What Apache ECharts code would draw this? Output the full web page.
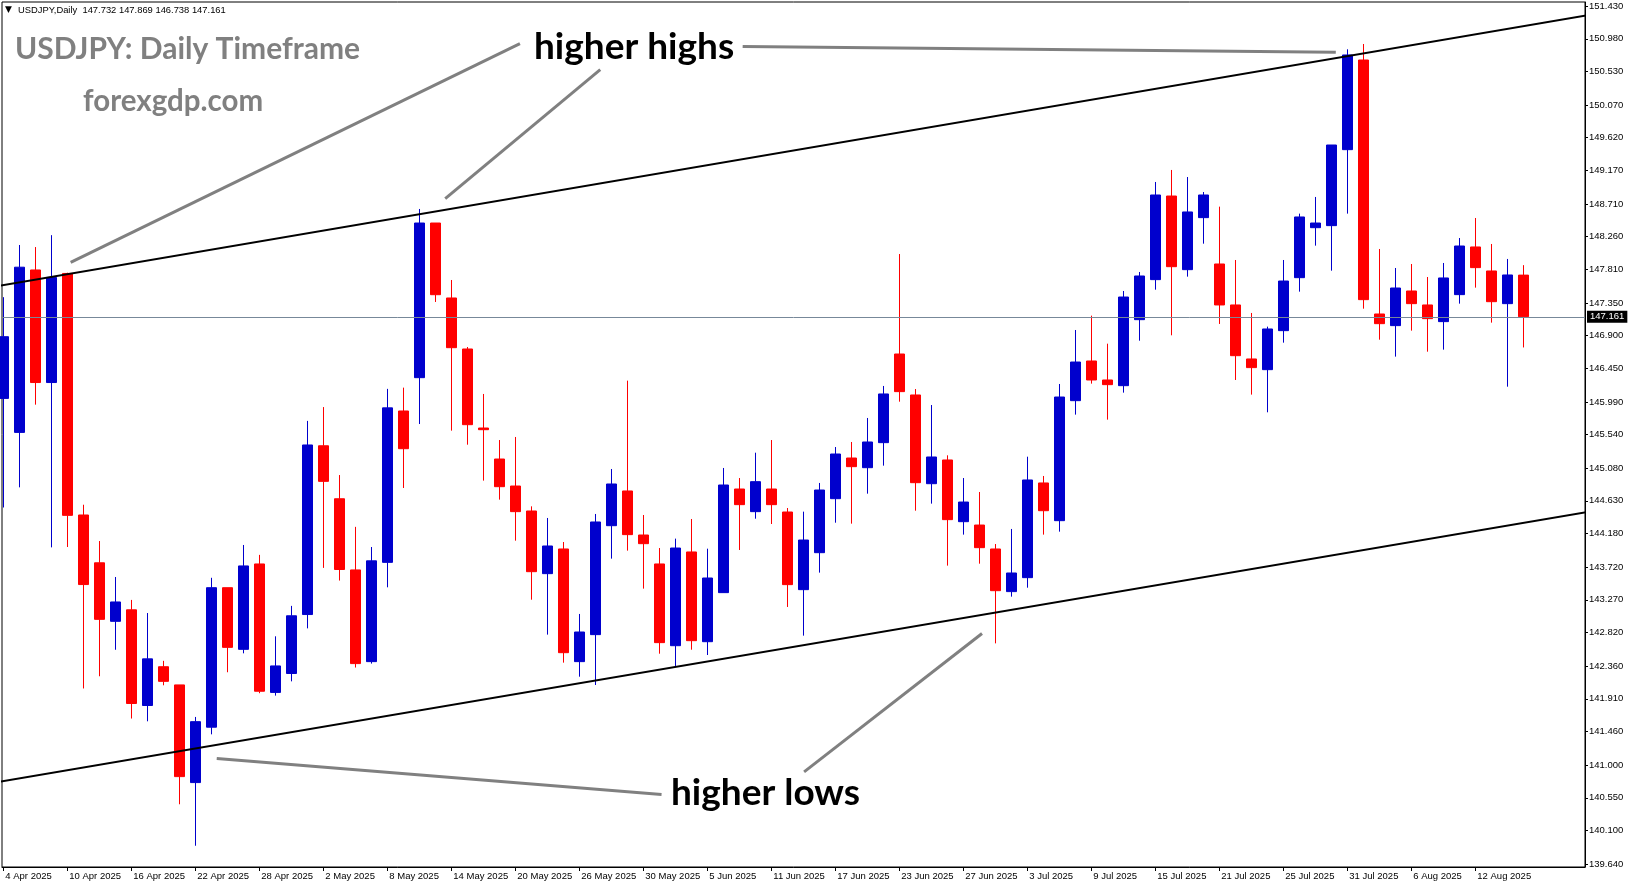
<!DOCTYPE html>
<html><head><meta charset="utf-8">
<script src="https://cdn.jsdelivr.net/npm/echarts@6/dist/echarts.min.js"></script>
<style>html,body{margin:0;padding:0;background:#fff}#chart{width:1631px;height:888px}</style>
</head><body><div id="chart"></div>
<script>
const dates = ['4 Apr 2025','7 Apr 2025','8 Apr 2025','9 Apr 2025','10 Apr 2025','11 Apr 2025','14 Apr 2025','15 Apr 2025','16 Apr 2025','17 Apr 2025','18 Apr 2025','21 Apr 2025','22 Apr 2025','23 Apr 2025','24 Apr 2025','25 Apr 2025','28 Apr 2025','29 Apr 2025','30 Apr 2025',
'1 May 2025','2 May 2025','5 May 2025','6 May 2025','7 May 2025','8 May 2025','9 May 2025','12 May 2025','13 May 2025','14 May 2025','15 May 2025','16 May 2025','19 May 2025','20 May 2025','21 May 2025','22 May 2025','23 May 2025','26 May 2025','27 May 2025','28 May 2025','29 May 2025','30 May 2025',
'2 Jun 2025','3 Jun 2025','4 Jun 2025','5 Jun 2025','6 Jun 2025','9 Jun 2025','10 Jun 2025','11 Jun 2025','12 Jun 2025','13 Jun 2025','16 Jun 2025','17 Jun 2025','18 Jun 2025','19 Jun 2025','20 Jun 2025','23 Jun 2025','24 Jun 2025','25 Jun 2025','26 Jun 2025','27 Jun 2025','30 Jun 2025',
'1 Jul 2025','2 Jul 2025','3 Jul 2025','4 Jul 2025','7 Jul 2025','8 Jul 2025','9 Jul 2025','10 Jul 2025','11 Jul 2025','14 Jul 2025','15 Jul 2025','16 Jul 2025','17 Jul 2025','18 Jul 2025','21 Jul 2025','22 Jul 2025','23 Jul 2025','24 Jul 2025','25 Jul 2025','28 Jul 2025','29 Jul 2025','30 Jul 2025','31 Jul 2025',
'1 Aug 2025','4 Aug 2025','5 Aug 2025','6 Aug 2025','7 Aug 2025','8 Aug 2025','11 Aug 2025','12 Aug 2025','13 Aug 2025','14 Aug 2025','15 Aug 2025'];

const openP = [146.038,145.571,147.803,146.256,147.755,144.436,143.779,142.975,143.133,141.818,142.351,142.101,140.759,141.520,143.437,142.590,143.763,141.998,142.258,
143.068,145.387,144.659,143.681,142.421,143.785,145.865,146.323,148.448,147.418,146.717,145.631,145.205,144.834,144.491,143.630,143.969,142.421,142.792,144.289,144.766,144.161,
143.763,142.640,143.928,142.695,143.369,144.793,144.482,144.793,144.477,143.410,143.918,144.660,145.219,145.086,145.430,146.648,146.085,144.866,145.192,144.344,144.298,
143.969,143.383,143.575,144.876,144.358,146.007,146.552,146.291,146.213,147.120,147.670,148.819,147.807,148.522,147.885,147.322,146.580,146.433,146.969,147.697,148.384,148.412,149.456,
150.688,147.198,147.038,147.514,147.322,147.093,147.464,148.119,147.789,147.340,147.732];
const highP = [147.429,148.146,148.118,148.281,147.765,144.577,144.078,143.584,143.269,143.089,142.432,142.101,141.661,143.573,143.437,144.024,143.888,142.769,143.187,
145.729,145.919,144.985,144.273,143.996,146.169,146.186,148.641,148.448,147.665,146.744,146.099,145.466,145.508,144.555,144.395,144.065,143.076,144.450,145.068,146.282,144.436,
143.982,144.111,144.381,143.973,145.082,144.944,145.292,145.466,144.532,144.482,144.876,145.370,145.439,145.769,146.209,148.022,146.167,145.947,145.256,144.944,144.752,
144.037,144.244,145.237,144.972,146.236,146.978,147.175,146.790,147.514,147.775,149.012,149.177,149.080,148.874,148.673,147.940,147.212,147.024,147.940,148.577,148.806,149.520,150.835,
150.908,148.091,147.830,147.885,147.706,147.899,148.242,148.517,148.160,147.954,147.869];
const lowP = [144.539,144.816,145.952,143.991,143.996,142.052,142.220,142.584,141.639,141.601,142.096,140.461,139.891,141.422,142.275,142.535,141.987,141.954,142.150,
142.878,143.709,143.535,142.340,142.394,143.442,144.807,145.686,147.363,145.595,145.402,144.908,144.647,144.083,143.272,142.792,142.407,142.214,142.100,143.836,143.946,143.424,
142.530,142.361,142.585,142.512,143.369,143.955,144.385,144.312,143.172,142.778,143.644,144.330,144.317,144.729,145.114,145.993,144.495,144.592,143.740,144.166,143.767,
142.672,143.314,143.437,144.166,144.207,145.815,146.241,145.746,146.117,146.831,147.532,146.905,147.711,148.164,147.061,146.291,146.090,145.847,146.804,147.505,148.137,147.793,148.577,
147.271,146.845,146.612,146.969,146.680,146.708,147.340,147.560,147.079,146.199,146.738];
const closeP = [146.886,147.841,146.256,147.700,144.431,143.480,143.002,143.241,141.846,142.459,142.150,140.841,141.596,143.437,142.617,143.736,142.014,142.362,143.051,
145.398,144.898,143.687,142.394,143.806,145.908,145.347,148.448,147.463,146.735,145.677,145.608,144.825,144.482,143.657,144.010,142.544,142.828,144.340,144.862,144.166,144.042,
142.682,143.982,142.709,143.570,144.848,144.578,144.894,144.578,143.479,144.092,144.779,145.274,145.100,145.439,146.099,146.131,144.880,145.233,144.372,144.614,143.987,
143.396,143.639,144.917,144.495,146.057,146.538,146.291,146.227,147.431,147.720,148.833,147.848,148.600,148.833,147.322,146.625,146.461,146.992,147.651,148.531,148.448,149.520,150.757,
147.395,147.065,147.555,147.340,147.134,147.693,148.132,147.835,147.367,147.734,147.161];

const priceTicks = [151.430,150.980,150.530,150.070,149.620,149.170,148.710,148.260,147.810,147.350,146.900,146.450,145.990,145.540,145.080,144.630,144.180,143.720,143.270,142.820,142.360,141.910,141.460,141.000,140.550,140.100,139.640];
const dateTickIdx = [0,4,8,12,16,20,24,28,32,36,40,44,48,52,56,60,64,68,72,76,80,84,88,92];

// trend channel (bar index, price)
const upperTrend = [[-1,147.558],[100,151.340]];
const lowerTrend = [[-1,140.741],[100,144.513]];
// annotation pointer lines (bar index, price)
const hhPointerA = [[32.29,150.912],[4.21,147.907]];
const hhPointerB = [[37.31,150.555],[27.62,148.782]];
const hhPointerC = [[46.21,150.873],[83.28,150.794]];
const hlPointerA = [[41.14,140.595],[13.34,141.090]];
const hlPointerB = [[50.05,140.907],[61.17,142.808]];

const header = 'USDJPY,Daily  147.732 147.869 146.738 147.161';
const lastClose = closeP[closeP.length-1];

const AXF = 'Liberation Sans';
const chart = echarts.init(document.getElementById('chart'), null, {renderer:'canvas'});

function lineSeries(data, color, width){
  return {type:'line', data:data, symbol:'none', silent:true, animation:false,
    lineStyle:{color:color, width:width}, z:3};
}

chart.setOption({
  animation:false,
  backgroundColor:'#fff',
  grid:{left:2, top:2, width:1583, height:865, show:true, borderColor:'#000', borderWidth:1, backgroundColor:'#fff'},
  xAxis:{type:'value', min:-0.081, max:98.856,
    axisLine:{show:true, onZero:false, lineStyle:{color:'#000', width:1}},
    axisTick:{show:true, customValues:dateTickIdx, length:4, lineStyle:{color:'#000'}},
    axisLabel:{customValues:dateTickIdx, formatter:(v)=>dates[Math.round(v)], align:'left', margin:4,
      fontFamily:AXF, fontSize:9.5, color:'#000', padding:[0,0,0,2]},
    splitLine:{show:false}},
  yAxis:{type:'value', position:'right', min:139.599, max:151.485,
    axisLine:{show:true, onZero:false, lineStyle:{color:'#000', width:1}},
    axisTick:{show:true, customValues:priceTicks, length:3, lineStyle:{color:'#000'}},
    axisLabel:{customValues:priceTicks, formatter:(v)=>Number(v).toFixed(3), margin:4,
      fontFamily:AXF, fontSize:9.5, color:'#000'},
    splitLine:{show:false}},
  series:[
    {type:'candlestick', barWidth:11, z:2,
      encode:{x:0, y:[1,2,3,4]},
      data:dates.map((d,i)=>[i, openP[i], closeP[i], lowP[i], highP[i]]),
      itemStyle:{color:'#0000CD', borderColor:'#0000CD', color0:'#FF0000', borderColor0:'#FF0000', borderWidth:1},
      markLine:{symbol:'none', silent:true, animation:false,
        lineStyle:{color:'#778899', width:1, type:'solid'},
        label:{show:true, position:'end', distance:2, formatter:()=>lastClose.toFixed(3),
          backgroundColor:'#000', color:'#fff', fontFamily:AXF, fontSize:9.5, padding:[1,3,1,3]},
        data:[{yAxis:lastClose}]}},
    lineSeries(upperTrend,'#000',2),
    lineSeries(lowerTrend,'#000',2),
    lineSeries(hhPointerA,'#808080',3),
    lineSeries(hhPointerB,'#808080',3),
    lineSeries(hhPointerC,'#808080',3),
    lineSeries(hlPointerA,'#808080',3),
    lineSeries(hlPointerB,'#808080',3)
  ],
  graphic:[
    {type:'text', x:5, y:10, z:10, style:{text:'▼', font:'9px DejaVu Sans', fill:'#000', textAlign:'left', textVerticalAlign:'middle'}},
    {type:'text', x:18, y:10, z:10, style:{text:header, font:'9.4px Liberation Sans', fill:'#000', textAlign:'left', textVerticalAlign:'middle'}},
    {type:'text', x:15, y:49, z:10, style:{text:'USDJPY: Daily Timeframe', font:'bold 30px Lato', fill:'#808080', textAlign:'left', textVerticalAlign:'middle'}},
    {type:'text', x:83, y:101, z:10, style:{text:'forexgdp.com', font:'bold 29.5px Lato', fill:'#808080', textAlign:'left', textVerticalAlign:'middle'}},
    {type:'text', x:534, y:47, z:10, style:{text:'higher highs', font:'bold 37px Lato', fill:'#000', textAlign:'left', textVerticalAlign:'middle'}},
    {type:'text', x:671, y:793, z:10, style:{text:'higher lows', font:'bold 37px Lato', fill:'#000', textAlign:'left', textVerticalAlign:'middle'}}
  ]
});
</script>
</body></html>
